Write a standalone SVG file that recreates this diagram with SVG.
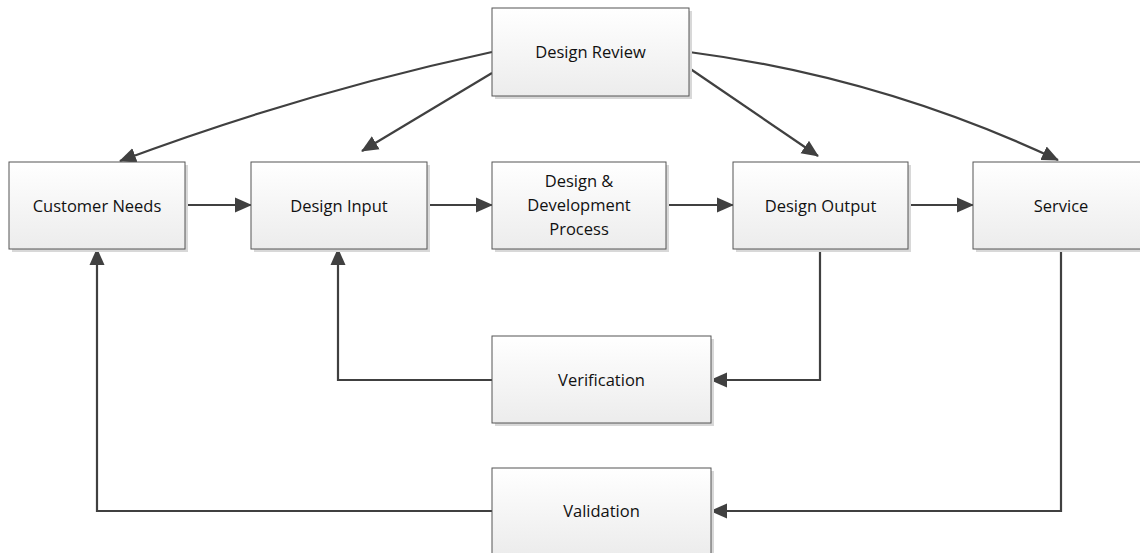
<svg xmlns="http://www.w3.org/2000/svg" width="1140" height="553" viewBox="0 0 1140 553">
<defs>
<linearGradient id="g" x1="0" y1="0" x2="0" y2="1">
<stop offset="0" stop-color="#ffffff"/>
<stop offset="1" stop-color="#ececec"/>
</linearGradient>
<marker id="ah" markerWidth="17" markerHeight="16" refX="16" refY="8" orient="auto" markerUnits="userSpaceOnUse">
<path d="M0,0.5 L17,8 L0,15.5 Z" fill="#404040"/>
</marker>
</defs>
<style>
.sh{fill:#d8d8d8}
.bx{fill:url(#g);stroke:#555;stroke-width:1}
.t{font-family:"Open Sans","Liberation Sans",sans-serif;font-size:16.5px;fill:#111;text-anchor:middle}
.c{fill:none;stroke:#404040;stroke-width:2.2;marker-end:url(#ah)}
</style>
<g id="connectors">
<path class="c" d="M492,52 Q302,93 120,161"/>
<path class="c" d="M492,73 L362,151"/>
<path class="c" d="M689,68 L818,156"/>
<path class="c" d="M689,52 Q881,77 1058,160"/>
<path class="c" d="M185,205 L251,205"/>
<path class="c" d="M427,205 L492,205"/>
<path class="c" d="M666,205 L733,205"/>
<path class="c" d="M908,205 L973,205"/>
<path class="c" d="M820,249 L820,380 L711,380"/>
<path class="c" d="M492,380 L338,380 L338,249"/>
<path class="c" d="M1061,249 L1061,511 L711,511"/>
<path class="c" d="M492,511 L97,511 L97,249"/>
</g>
<g id="design-review">
<rect class="sh" x="495" y="11" width="197" height="88"/>
<rect class="bx" x="492" y="8" width="197" height="88"/>
<text class="t" x="590.5" y="58">Design Review</text>
</g>
<g id="customer-needs">
<rect class="sh" x="12" y="165" width="176" height="87"/>
<rect class="bx" x="9" y="162" width="176" height="87"/>
<text class="t" x="97" y="211.5">Customer Needs</text>
</g>
<g id="design-input">
<rect class="sh" x="254" y="165" width="176" height="87"/>
<rect class="bx" x="251" y="162" width="176" height="87"/>
<text class="t" x="339" y="211.5">Design Input</text>
</g>
<g id="design-development">
<rect class="sh" x="495" y="165" width="174" height="87"/>
<rect class="bx" x="492" y="162" width="174" height="87"/>
<text class="t" x="579" y="187">Design &amp;</text>
<text class="t" x="579" y="211">Development</text>
<text class="t" x="579" y="234.5">Process</text>
</g>
<g id="design-output">
<rect class="sh" x="736" y="165" width="175" height="87"/>
<rect class="bx" x="733" y="162" width="175" height="87"/>
<text class="t" x="820.5" y="211.5">Design Output</text>
</g>
<g id="service">
<rect class="sh" x="976" y="165" width="176" height="87"/>
<rect class="bx" x="973" y="162" width="176" height="87"/>
<text class="t" x="1061" y="211.5">Service</text>
</g>
<g id="verification">
<rect class="sh" x="495" y="339" width="219" height="87"/>
<rect class="bx" x="492" y="336" width="219" height="87"/>
<text class="t" x="601.5" y="385.5">Verification</text>
</g>
<g id="validation">
<rect class="sh" x="495" y="471" width="219" height="87"/>
<rect class="bx" x="492" y="468" width="219" height="87"/>
<text class="t" x="601.5" y="517">Validation</text>
</g>
</svg>
